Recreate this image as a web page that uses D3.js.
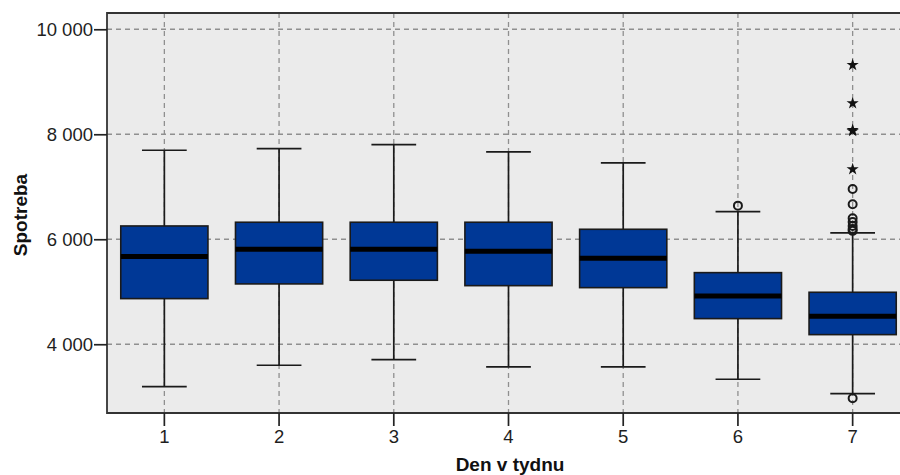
<!DOCTYPE html>
<html>
<head>
<meta charset="utf-8">
<script src="https://cdn.jsdelivr.net/npm/d3@7"></script>
<style>
  html, body { margin: 0; padding: 0; background: #fff; }
  svg { display: block; font-family: "Liberation Sans", Arial, sans-serif; }
</style>
</head>
<body>
<svg id="chart" width="900" height="475"></svg>
<script>
// Daily consumption by day of week: box-plot statistics
const days        = ["1", "2", "3", "4", "5", "6", "7"];
const whiskerLow  = [3192, 3600, 3707, 3568, 3568, 3333, 3059];
const quartile1   = [4869, 5149, 5219, 5116, 5078, 4488, 4183];
const medians     = [5669, 5810, 5810, 5771, 5638, 4920, 4533];
const quartile3   = [6253, 6324, 6324, 6324, 6190, 5364, 4990];
const whiskerHigh = [7695, 7726, 7802, 7663, 7453, 6526, 6120];

// Outliers (circles) and extreme values (stars)
const outlierDays   = ["6", "7", "7", "7", "7", "7", "7", "7", "7"];
const outlierValues = [6640, 6958, 6667, 6400, 6330, 6253, 6196, 6160, 2971];
const extremeDays   = ["7", "7", "7", "7", "7"];
const extremeValues = [9320, 8590, 8082, 8060, 7333];

const yTicks = [4000, 6000, 8000, 10000];
const xTitle = "Den v tydnu";
const yTitle = "Spotreba";

const svg = d3.select("#chart");
const plot = { left: 107, top: 13, right: 910, bottom: 413 };

const x = d3.scaleBand().domain(days).range([plot.left, plot.right]).padding(0);
const y = d3.scaleLinear().domain([2690, 10310]).range([plot.bottom, plot.top]);
const cx = d => x(d) + x.bandwidth() / 2;
const boxW = x.bandwidth() * 0.76;
const capW = x.bandwidth() * 0.39;

// Panel background
svg.append("rect")
  .attr("x", plot.left).attr("y", plot.top)
  .attr("width", plot.right - plot.left).attr("height", plot.bottom - plot.top)
  .attr("fill", "#ebebeb");

// Dashed grid
const grid = svg.append("g")
  .attr("stroke", "#8f8f8f").attr("stroke-width", 1.3).attr("stroke-dasharray", "5,4");
grid.selectAll("line.h").data(yTicks).join("line")
  .attr("x1", plot.left).attr("x2", plot.right)
  .attr("y1", d => y(d)).attr("y2", d => y(d));
grid.selectAll("line.v").data(days).join("line")
  .attr("x1", cx).attr("x2", cx)
  .attr("y1", plot.top).attr("y2", plot.bottom);

// Boxes
const stats = days.map((d, i) => ({
  day: d, lo: whiskerLow[i], q1: quartile1[i], med: medians[i], q3: quartile3[i], hi: whiskerHigh[i]
}));
const boxes = svg.append("g").selectAll("g").data(stats).join("g");

boxes.append("line")
  .attr("x1", d => cx(d.day)).attr("x2", d => cx(d.day))
  .attr("y1", d => y(d.hi)).attr("y2", d => y(d.lo))
  .attr("stroke", "#1a1a1a").attr("stroke-width", 1.7);
boxes.append("line")
  .attr("x1", d => cx(d.day) - capW / 2).attr("x2", d => cx(d.day) + capW / 2)
  .attr("y1", d => y(d.hi)).attr("y2", d => y(d.hi))
  .attr("stroke", "#1a1a1a").attr("stroke-width", 1.7);
boxes.append("line")
  .attr("x1", d => cx(d.day) - capW / 2).attr("x2", d => cx(d.day) + capW / 2)
  .attr("y1", d => y(d.lo)).attr("y2", d => y(d.lo))
  .attr("stroke", "#1a1a1a").attr("stroke-width", 1.7);
boxes.append("rect")
  .attr("x", d => cx(d.day) - boxW / 2).attr("width", boxW)
  .attr("y", d => y(d.q3)).attr("height", d => y(d.q1) - y(d.q3))
  .attr("fill", "#003896").attr("stroke", "#1a1a1a").attr("stroke-width", 1.6);
boxes.append("line")
  .attr("x1", d => cx(d.day) - boxW / 2).attr("x2", d => cx(d.day) + boxW / 2)
  .attr("y1", d => y(d.med)).attr("y2", d => y(d.med))
  .attr("stroke", "#000").attr("stroke-width", 5);

// Outliers
svg.append("g").selectAll("circle").data(outlierValues).join("circle")
  .attr("cx", (d, i) => cx(outlierDays[i])).attr("cy", d => y(d))
  .attr("r", 4).attr("fill", "none").attr("stroke", "#1a1a1a").attr("stroke-width", 2);

// Extremes
const star = d3.symbol().type(d3.symbolStar).size(46);
svg.append("g").selectAll("path").data(extremeValues).join("path")
  .attr("d", star)
  .attr("transform", (d, i) => `translate(${cx(extremeDays[i])},${y(d)})`)
  .attr("fill", "#111");

// Frame
svg.append("path")
  .attr("d", `M${plot.right},${plot.top}H${plot.left}V${plot.bottom}H${plot.right}`)
  .attr("fill", "none").attr("stroke", "#333").attr("stroke-width", 1.8);

// Axes
const yAxis = svg.append("g")
  .attr("transform", `translate(${plot.left},0)`)
  .call(d3.axisLeft(y).tickValues(yTicks).tickSize(13).tickPadding(1)
    .tickFormat(d => d3.format(",")(d).replace(/,/g, " ")));
const xAxis = svg.append("g")
  .attr("transform", `translate(0,${plot.bottom})`)
  .call(d3.axisBottom(x).tickSize(13).tickPadding(4));
[xAxis, yAxis].forEach(g => {
  g.select(".domain").remove();
  g.selectAll(".tick line").attr("stroke", "#222").attr("stroke-width", 1.7);
  g.selectAll(".tick text").attr("fill", "#1e1e1e").style("font-size", "18.5px")
    .style("font-family", "'Liberation Sans', Arial, sans-serif");
});

// Axis titles
svg.append("text")
  .attr("x", 510).attr("y", 471)
  .attr("text-anchor", "middle")
  .style("font-size", "19px").style("font-weight", "bold").attr("fill", "#111")
  .text(xTitle);
svg.append("text")
  .attr("transform", "translate(27,215) rotate(-90)")
  .attr("text-anchor", "middle")
  .style("font-size", "19px").style("font-weight", "bold").attr("fill", "#111")
  .text(yTitle);
</script>
</body>
</html>
